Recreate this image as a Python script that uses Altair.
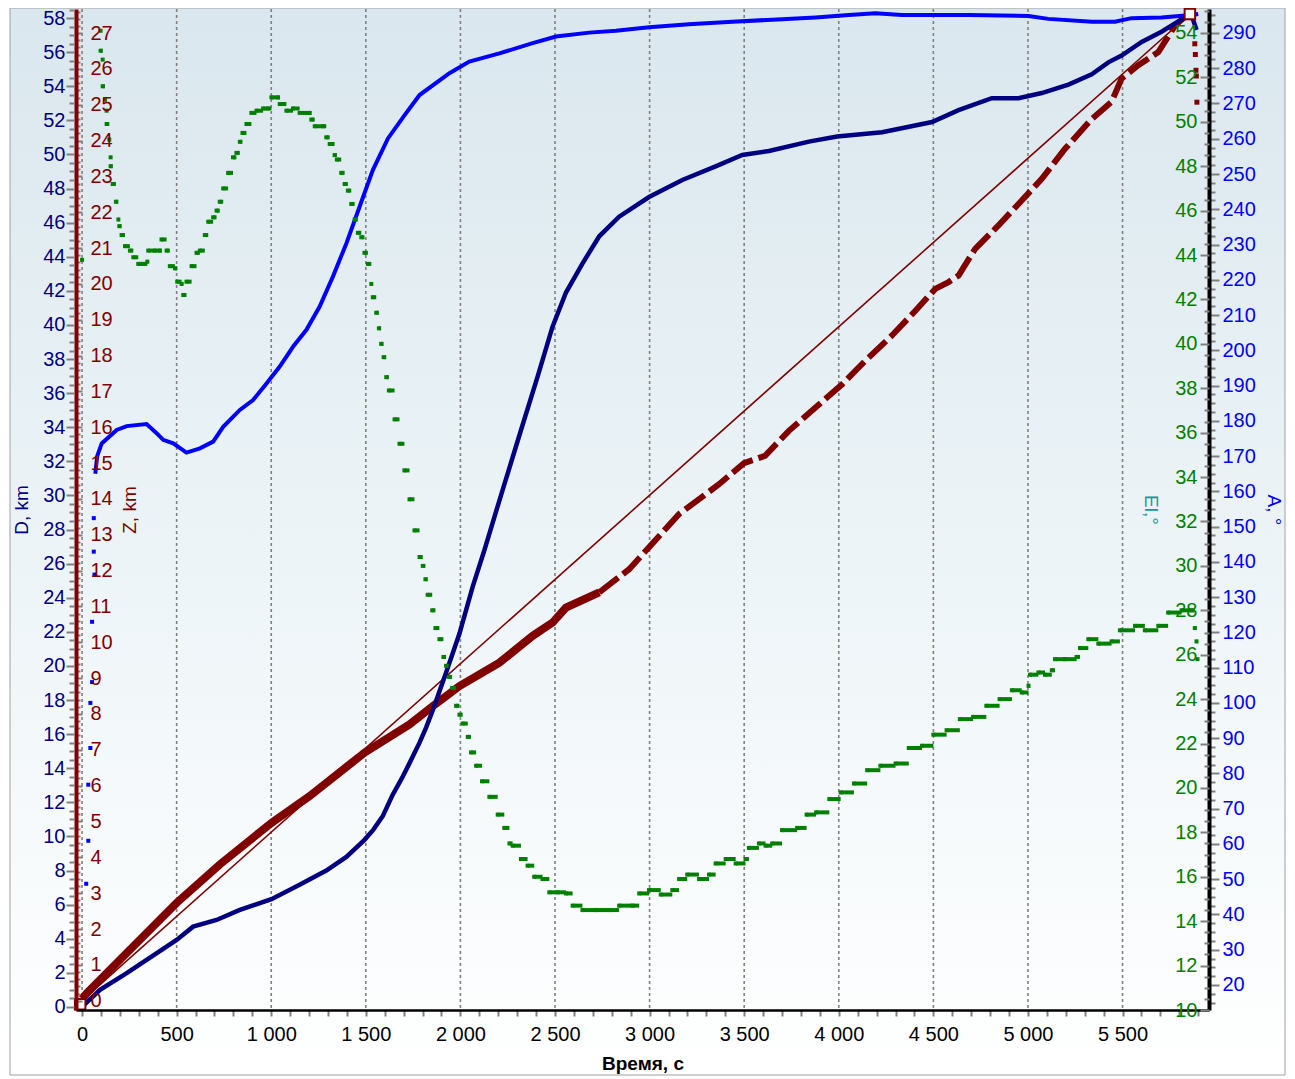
import altair as alt
import pandas as pd

W, H = 1133, 1001

# ---------------- axes ----------------
X_DOMAIN = [-32, 5957]
X_TICKS = list(range(0, 5901, 100))
GRID_T = [0, 500, 1000, 1500, 2000, 2500, 3000, 3500, 4000, 4500, 5000, 5500]

D_DOMAIN = [-0.18, 58.53]
Z_DOMAIN = [-0.26, 27.67]
EL_DOMAIN = [10, 55.08]
A_DOMAIN = [12.9, 296.8]

D_TICKS = [i * 0.5 for i in range(0, 118)]
Z_TICKS = [round(i * 0.2, 1) for i in range(0, 139)]
EL_TICKS = [10 + i * 0.5 for i in range(0, 91)]
A_TICKS = [15 + i * 2.5 for i in range(0, 113)]

# ---------------- data ----------------
# D, km (navy)
D_T = [0, 95, 236, 500, 587, 711, 834, 1001, 1150, 1291, 1397, 1493, 1540, 1590, 1640, 1690,
       1731, 1784, 1819, 1854, 1924, 1995, 2065, 2127, 2206, 2311, 2408, 2487, 2558, 2645,
       2734, 2839, 2997, 3173, 3349, 3490, 3631, 3842, 3991, 4229, 4493, 4633, 4809, 4950,
       5073, 5214, 5337, 5425, 5495, 5601, 5706, 5794, 5864, 5891]
D_KM = [0, 1.0, 1.98, 3.93, 4.71, 5.1, 5.69, 6.32, 7.16, 8.0, 8.8, 9.8, 10.4, 11.2, 12.4, 13.4,
        14.3, 15.5, 16.4, 17.4, 19.6, 21.9, 24.65, 26.8, 29.7, 33.5, 36.97, 39.9, 41.9, 43.6,
        45.2, 46.35, 47.5, 48.5, 49.3, 49.97, 50.2, 50.75, 51.05, 51.3, 51.9, 52.6, 53.3, 53.3,
        53.6, 54.1, 54.7, 55.4, 55.8, 56.6, 57.2, 57.8, 58.2, 57.3]

# A, deg (blue) - sparse launch points and main track
A_SPARSE_T = [0, 22, 33, 33, 44, 44, 53, 53, 62, 66, 62]
A_SPARSE = [14, 48.7, 60.9, 76.8, 87.2, 100, 105.9, 123, 142.9, 136.4, 152.4]
A_T = [70, 80, 104, 183, 236, 341, 394, 429, 482, 552, 623, 693, 746, 834, 904, 975, 1045,
       1115, 1186, 1256, 1326, 1397, 1467, 1537, 1617, 1705, 1784, 1942, 2047, 2206, 2382,
       2505, 2681, 2822, 2997, 3208, 3437, 3701, 3877, 4053, 4194, 4334, 4493, 4686, 5003,
       5108, 5337, 5460, 5548, 5706, 5864, 5900]
A_DEG = [165, 170, 173.6, 177.4, 178.5, 179.1, 176.5, 174.6, 173.6, 171, 172.2, 174.1, 178.3,
         183.1, 185.9, 190.6, 195.4, 201, 205.8, 212.4, 220.9, 230.3, 240.7, 251.1, 260.1,
         266.7, 272.4, 278.6, 281.9, 284.2, 287.1, 289, 290.1, 290.6, 291.6, 292.5, 293.2,
         293.9, 294.4, 295.1, 295.6, 295.1, 295.1, 295.1, 294.8, 294.0, 293.2, 293.2, 294.2,
         294.4, 295.1, 295.4]

# Z, km (dark red)
Z_T = [0, 25, 236, 500, 728, 1001, 1203, 1493, 1731, 1854, 1995, 2206, 2382, 2487, 2558,
       2734, 2892, 2997, 3156, 3367, 3499, 3610, 3736, 3877, 4018, 4141, 4281, 4405, 4510,
       4580, 4633, 4721, 4844, 4950, 5073, 5196, 5337, 5442, 5495, 5583, 5689, 5777, 5847]
Z_KM = [0.05, 0.21, 1.33, 2.73, 3.8, 4.96, 5.71, 6.92, 7.71, 8.22, 8.78, 9.43, 10.18, 10.55,
        10.97, 11.39, 12.04, 12.65, 13.58, 14.41, 15.0, 15.2, 15.9, 16.55, 17.2, 17.86, 18.56,
        19.25, 19.86, 20.05, 20.23, 20.98, 21.63, 22.23, 22.93, 23.77, 24.6, 25.08, 25.73,
        26.1, 26.47, 27.2, 27.54]
ZD_T = [5882, 5885, 5888, 5890, 5893]
ZD_KM = [26.7, 26.4, 25.96, 25.8, 25.07]

# reference ascent line and start / end markers (Z scale)
REF_T = [0, 5856]
REF_KM = [0, 27.53]
MK_T = [-10, 5856]
MK_KM = [-0.1, 27.53]

# El, deg (green)
EL_T = [0, 98, 98, 109, 109, 121, 130, 130, 144, 151, 151, 162, 179, 192, 197, 209, 227, 253,
        271, 297, 323, 345, 350, 385, 412, 420, 447, 464, 491, 503, 526, 535, 552, 579, 605,
        623, 649, 667, 693, 711, 728, 746, 772, 798, 816, 834, 848, 869, 895, 922, 957, 983,
        1001, 1036, 1045, 1080, 1115, 1150, 1203, 1212, 1230, 1274, 1291, 1309, 1335, 1347,
        1370, 1388, 1405, 1423, 1441, 1458, 1476, 1493, 1511, 1529, 1537, 1555, 1569, 1581,
        1594, 1608, 1622, 1652, 1678, 1704, 1731, 1757, 1784, 1801, 1815, 1827, 1851, 1868,
        1889, 1910, 1924, 1938, 1956, 1977, 1995, 2012, 2039, 2056, 2083, 2114, 2153, 2197,
        2232, 2259, 2276, 2320, 2355, 2390, 2434, 2470, 2513, 2558, 2593, 2645, 2716, 2786,
        2839, 2909, 2945, 2997, 3059, 3120, 3156, 3199, 3261, 3314, 3349, 3402, 3455, 3507,
        3525, 3578, 3613, 3648, 3700, 3780, 3830, 3880, 3950, 4010, 4080, 4150, 4220, 4300,
        4370, 4440, 4500, 4570, 4640, 4710, 4780, 4850, 4915, 4967, 5003, 5011, 5055, 5090,
        5126, 5143, 5196, 5257, 5275, 5319, 5372, 5442, 5486, 5566, 5618, 5689, 5741, 5812,
        5864, 5882, 5891, 5896]
EL_DEG = [43.78, 54.1, 53.2, 52.8, 51.6, 51.0, 50.5, 49.9, 49.2, 48.4, 48.0, 47.2, 46.4, 45.6,
          45.3, 44.9, 44.4, 44.2, 43.9, 43.6, 43.6, 43.7, 44.2, 44.2, 44.2, 44.7, 44.2, 43.5,
          43.4, 42.8, 42.7, 42.2, 42.8, 43.5, 44.1, 44.2, 44.9, 45.5, 45.7, 46.0, 46.4, 47.0,
          47.7, 48.4, 48.6, 49.1, 49.5, 49.9, 50.4, 50.5, 50.6, 50.6, 51.1, 51.1, 50.8, 50.5,
          50.6, 50.4, 50.4, 50.1, 49.8, 49.8, 49.3, 49.0, 48.5, 48.3, 47.7, 47.2, 46.9, 46.3,
          45.6, 45.0, 44.8, 44.1, 43.6, 42.7, 42.1, 41.4, 40.7, 40.0, 39.4, 38.5, 37.9, 36.6,
          35.5, 34.3, 33.0, 31.6, 30.4, 30.0, 29.4, 28.7, 28.0, 27.2, 26.7, 25.9, 25.5, 25.0,
          24.5, 23.7, 23.3, 22.9, 22.3, 21.6, 21.0, 20.3, 19.6, 18.8, 18.2, 17.5, 17.4, 16.8,
          16.5, 16.0, 15.9, 15.3, 15.3, 15.25, 14.7, 14.5, 14.5, 14.5, 14.7, 14.7, 15.25, 15.4,
          15.2, 15.4, 15.9, 16.1, 15.9, 16.1, 16.6, 16.8, 16.6, 16.8, 17.3, 17.5, 17.4, 17.5,
          18.1, 18.2, 18.8, 18.9, 19.5, 19.8, 20.2, 20.8, 21.0, 21.1, 21.8, 21.9, 22.4, 22.6,
          23.1, 23.2, 23.7, 24.0, 24.4, 24.3, 24.6, 25.1, 25.2, 25.1, 25.3, 25.8, 25.8, 25.9,
          26.3, 26.7, 26.5, 26.6, 27.1, 27.3, 27.1, 27.3, 27.9, 28.0, 28.0, 27.2, 26.6, 25.8]

# ---------------- styling ----------------
FONT = "Liberation Sans"
NAVY = "#000080"
BLUE = "#0000FF"
DRED = "#800000"
GREEN = "#008000"
TEAL = "#119999"
TICK = "#808080"
Z_STEP_START = 2734


def cond(test, a, b):
    return {"condition": {"test": test, "value": a}, "value": b}


x_axis = alt.Axis(
    values=X_TICKS,
    labelExpr="datum.value % 500 === 0 ? replace(format(datum.value, ','), ',', ' ') : ''",
    tickSize=6, tickColor=TICK, tickWidth=2,
    domainColor="black", domainWidth=2.5,
    labelColor="black", labelFontSize=20, labelPadding=8,
    labelOverlap=False, labelFlush=False,
    grid=False, zindex=1,
    title="Время, с", titleFontSize=19, titleFontWeight="bold", titleColor="black",
    titlePadding=10,
)
xenc = alt.X("t:Q", scale=alt.Scale(domain=X_DOMAIN, nice=False, zero=False), axis=x_axis)

d_axis = alt.Axis(
    orient="left", offset=2, values=D_TICKS,
    labelExpr="datum.value % 2 === 0 ? format(datum.value, 'd') : ''",
    tickSize=cond("datum.value % 2 === 0", 8, 5), tickColor=TICK, tickWidth=2,
    domain=False, labelColor=NAVY, labelFontSize=20, labelPadding=1,
    labelOverlap=False, labelFlush=False, grid=False, zindex=1,
    title="D, km", titleColor=NAVY, titleFontSize=19, titleFontWeight="normal", titlePadding=11,
)
z_axis = alt.Axis(
    orient="right", offset=-W, values=Z_TICKS,
    labelExpr="abs(datum.value - round(datum.value)) < 0.001 ? format(datum.value, 'd') : ''",
    tickSize=cond("abs(datum.value - round(datum.value)) < 0.001", 6, 4), tickColor=TICK, tickWidth=2,
    domain=True, domainColor=DRED, domainWidth=4,
    labelColor=DRED, labelFontSize=20, labelPadding=8,
    labelOverlap=False, labelFlush=False, grid=False, zindex=1,
    title="Z, km", titleColor=DRED, titleFontSize=19, titleFontWeight="normal",
    titleAngle=270, titlePadding=27,
)
el_axis = alt.Axis(
    orient="left", offset=-W, values=EL_TICKS,
    labelExpr="datum.value % 2 === 0 ? format(datum.value, 'd') : ''",
    tickSize=cond("datum.value % 2 === 0", 9, 5), tickColor=TICK, tickWidth=2,
    domain=False, labelColor=GREEN, labelFontSize=20, labelPadding=3,
    labelOverlap=False, labelFlush=False, grid=False, zindex=1,
    title="El,°", titleColor=TEAL, titleFontSize=19, titleFontWeight="normal",
    titleAngle=90, titlePadding=34,
)
a_axis = alt.Axis(
    orient="right", offset=0, values=A_TICKS,
    labelExpr="datum.value % 10 === 0 ? format(datum.value, 'd') : ''",
    tickSize=cond("datum.value % 10 === 0", 10, 6), tickColor=TICK, tickWidth=2,
    domain=True, domainColor="black", domainWidth=4,
    labelColor=BLUE, labelFontSize=20, labelPadding=3,
    labelOverlap=False, labelFlush=False, grid=False, zindex=1,
    title="A, °", titleColor=BLUE, titleFontSize=19, titleFontWeight="normal",
    titleAngle=90, titlePadding=8,
)

dsc = alt.Scale(domain=D_DOMAIN, nice=False, zero=False)
zsc = alt.Scale(domain=Z_DOMAIN, nice=False, zero=False)
esc = alt.Scale(domain=EL_DOMAIN, nice=False, zero=False)
asc = alt.Scale(domain=A_DOMAIN, nice=False, zero=False)

dfD = pd.DataFrame({"t": D_T, "D": D_KM})
dfAs = pd.DataFrame({"t": A_SPARSE_T, "A": A_SPARSE})
dfA = pd.DataFrame({"t": A_T, "A": A_DEG})
dfZ = pd.DataFrame({"t": Z_T, "Z": Z_KM})
dfZd = pd.DataFrame({"t": ZD_T, "Z": ZD_KM})
dfRef = pd.DataFrame({"t": REF_T, "Z": REF_KM})
dfMk = pd.DataFrame({"t": MK_T, "Z": MK_KM})
dfEl = pd.DataFrame({"t": EL_T, "El": EL_DEG})

bg = alt.Chart(pd.DataFrame({"k": [0]})).mark_rect(
    fill=alt.Gradient(
        gradient="linear",
        stops=[alt.GradientStop(color="#dae7ee", offset=0),
               alt.GradientStop(color="#eef5f8", offset=0.55),
               alt.GradientStop(color="#ffffff", offset=1)],
        x1=0, x2=0, y1=0, y2=1),
    stroke="#a0a0a0", strokeWidth=1,
).encode(x=alt.value(-66), x2=alt.value(W + 76), y=alt.value(-1), y2=alt.value(H + 65))

grid = alt.Chart(pd.DataFrame({"t": GRID_T})).mark_rule(
    color=TICK, strokeWidth=1.6, strokeDash=[3, 3]
).encode(x=xenc, y=alt.value(0), y2=alt.value(H))

# dense, noisy lower part of the Z track: thick solid band
z_line = alt.Chart(dfZ).transform_filter(
    alt.datum.t <= Z_STEP_START
).mark_line(color=DRED, strokeWidth=8).encode(
    x=xenc, y=alt.Y("Z:Q", scale=zsc, axis=z_axis))
# upper part of the Z track: stepped clusters with gaps
z_line2 = alt.Chart(dfZ).transform_filter(
    alt.datum.t >= Z_STEP_START
).mark_line(color=DRED, strokeWidth=6, strokeDash=[24, 6]).encode(
    x=xenc, y=alt.Y("Z:Q", scale=zsc, axis=None))
z_desc = alt.Chart(dfZd).mark_square(color=DRED, size=25, opacity=1).encode(
    x=xenc, y=alt.Y("Z:Q", scale=zsc, axis=None))
z_ref = alt.Chart(dfRef).mark_line(color=DRED, strokeWidth=1.6).encode(
    x=xenc, y=alt.Y("Z:Q", scale=zsc, axis=None))

d_line = alt.Chart(dfD).mark_line(color=NAVY, strokeWidth=4.5).encode(
    x=xenc, y=alt.Y("D:Q", scale=dsc, axis=d_axis))

a_pts = alt.Chart(dfAs).mark_square(color=BLUE, size=16, opacity=1).encode(
    x=xenc, y=alt.Y("A:Q", scale=asc, axis=None))
a_line = alt.Chart(dfA).mark_line(color=BLUE, strokeWidth=4).encode(
    x=xenc, y=alt.Y("A:Q", scale=asc, axis=a_axis))

el_seg = alt.Chart(dfEl).transform_window(
    tn="lead(t)", sort=[alt.SortField("t", order="ascending")]
).transform_calculate(
    t2="isValid(datum.tn) && datum.tn - datum.t <= 90 ? datum.tn : datum.t"
).mark_rule(color=GREEN, strokeWidth=4).encode(
    x=xenc, x2="t2:Q", y=alt.Y("El:Q", scale=esc, axis=None))
el_pts = alt.Chart(dfEl).mark_square(color=GREEN, size=16, opacity=1).encode(
    x=xenc, y=alt.Y("El:Q", scale=esc, axis=el_axis))

markers = alt.Chart(dfMk).mark_square(
    size=110, filled=True, fill="white", stroke=DRED, strokeWidth=2, opacity=1
).encode(x=xenc, y=alt.Y("Z:Q", scale=zsc, axis=None))

chart = alt.layer(
    bg, grid, z_line, z_line2, z_desc, z_ref, d_line, a_pts, a_line, el_seg, el_pts, markers
).resolve_scale(y="independent").properties(
    width=W, height=H,
    autosize=alt.AutoSizeParams(type="none"),
    padding={"left": 68, "top": 1, "right": 78, "bottom": 66},
).configure_view(stroke=None).configure_axis(
    labelFont=FONT, titleFont=FONT
)

chart.save("out.html", embed_options={"renderer": "svg", "actions": False})
